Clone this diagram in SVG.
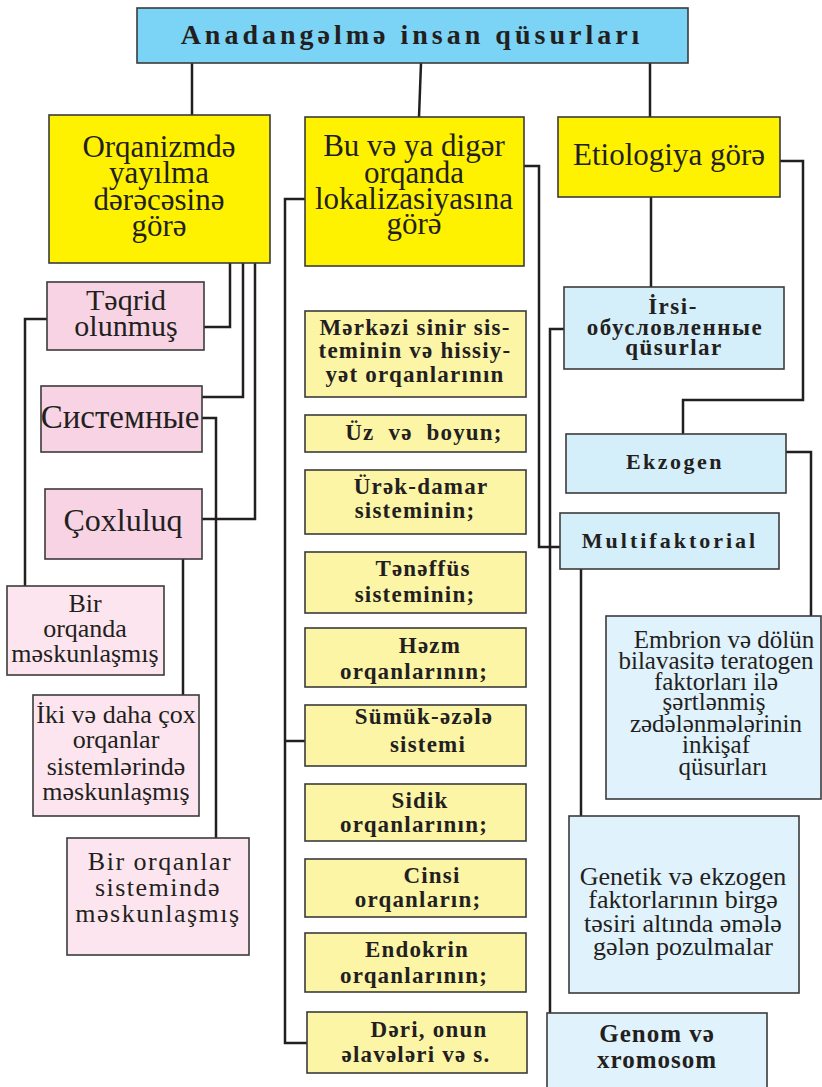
<svg xmlns="http://www.w3.org/2000/svg" width="822" height="1087" viewBox="0 0 822 1087" font-family="'Liberation Serif', 'DejaVu Serif', serif">
  <style>
    .box { stroke: #3b3b3b; stroke-width: 1.6; }
    .title { fill: #7bd3f5; }
    .main { fill: #fff200; }
    .pink { fill: #f8d3e4; }
    .pinkl { fill: #fde5ef; }
    .ylw { fill: #fdf5a6; }
    .blue { fill: #d4eefa; }
    .bluel { fill: #e0f2fc; }
    text { font-family: 'Liberation Serif', 'DejaVu Serif', serif; fill: #231f20; text-anchor: middle; }
    .t-title { font-size: 28px; font-weight: bold; letter-spacing: 4px; }
    .t-main { font-size: 31px; }
    .t-pink { font-size: 30px; }
    .t-pinkl { font-size: 26px; }
    .t-org { font-size: 23px; font-weight: bold; letter-spacing: 1.2px; }
    .t-cat { font-size: 22px; font-weight: bold; letter-spacing: 1px; }
    .t-desc { font-size: 25px; }
    .links path { fill: none; stroke: #231f20; stroke-width: 2.5; }
  </style>

  <!-- connectors -->
  <g class="links" id="connectors">
    <path d="M192,63 V115"/>
    <path d="M421,63 L419,117"/>
    <path d="M650,63 V117"/>
    <path d="M230,263 V327 H204"/>
    <path d="M243,263 V397 H202"/>
    <path d="M255,263 V519 H202"/>
    <path d="M47,319 H25 V586"/>
    <path d="M202,418 H216 V838"/>
    <path d="M183,559 V695"/>
    <path d="M305,199 H285 V1043 H307"/>
    <path d="M285,741 H305"/>
    <path d="M524,166 H539 V547 H560"/>
    <path d="M651,197 V287"/>
    <path d="M780,161 H803 V400 H683 V434"/>
    <path d="M564,329 H550 V1013"/>
    <path d="M786,452 H811 V616"/>
    <path d="M581,569 V816"/>
  </g>

  <!-- root -->
  <g id="root">
    <rect class="box title" x="137" y="8" width="551" height="55"/>
    <text class="t-title" x="412" y="44">Anadangəlmə insan qüsurları</text>
  </g>

  <!-- top-level criteria -->
  <g id="by-spread">
    <rect class="box main" x="49" y="115" width="221" height="148"/>
    <text class="t-main" x="159" y="157">Orqanizmdə</text>
    <text class="t-main" x="159" y="183">yayılma</text>
    <text class="t-main" x="159" y="210">dərəcəsinə</text>
    <text class="t-main" x="159" y="236">görə</text>
  </g>
  <g id="by-organ">
    <rect class="box main" x="305" y="117" width="219" height="149"/>
    <text class="t-main" x="414" y="156">Bu və ya digər</text>
    <text class="t-main" x="414" y="183">orqanda</text>
    <text class="t-main" x="414" y="209">lokalizasiyasına</text>
    <text class="t-main" x="414" y="234">görə</text>
  </g>
  <g id="by-etiology">
    <rect class="box main" x="558" y="117" width="222" height="80"/>
    <text class="t-main" x="669" y="165">Etiologiya görə</text>
  </g>

  <!-- spread branch -->
  <g id="isolated">
    <rect class="box pink" x="47" y="282" width="157" height="68"/>
    <text class="t-pink" x="126" y="310">Təqrid</text>
    <text class="t-pink" x="126" y="336">olunmuş</text>
  </g>
  <g id="systemic">
    <rect class="box pink" x="41" y="386" width="161" height="66"/>
    <text class="t-pink" x="120" y="428" style="font-size:33px">Системные</text>
  </g>
  <g id="multiple">
    <rect class="box pink" x="45" y="489" width="157" height="70"/>
    <text class="t-pink" x="123" y="531" style="font-size:32px">Çoxluluq</text>
  </g>
  <g id="one-organ">
    <rect class="box pinkl" x="7" y="586" width="157" height="89"/>
    <text class="t-pinkl" x="85" y="612">Bir</text>
    <text class="t-pinkl" x="85" y="637">orqanda</text>
    <text class="t-pinkl" x="85" y="662">məskunlaşmış</text>
  </g>
  <g id="several-systems">
    <rect class="box pinkl" x="33" y="695" width="166" height="121"/>
    <text class="t-pinkl" x="116" y="723">İki və daha çox</text>
    <text class="t-pinkl" x="116" y="748">orqanlar</text>
    <text class="t-pinkl" x="116" y="775">sistemlərində</text>
    <text class="t-pinkl" x="116" y="800">məskunlaşmış</text>
  </g>
  <g id="one-system">
    <rect class="box pinkl" x="67" y="838" width="182" height="117"/>
    <text class="t-pinkl" x="160" y="870" style="letter-spacing:1.5px">Bir orqanlar</text>
    <text class="t-pinkl" x="158" y="896" style="letter-spacing:1.5px">sistemində</text>
    <text class="t-pinkl" x="158" y="922" style="letter-spacing:1.5px">məskunlaşmış</text>
  </g>

  <!-- organ branch -->
  <g id="cns">
    <rect class="box ylw" x="305" y="311" width="221" height="86"/>
    <text class="t-org" x="415" y="335">Mərkəzi sinir sis-</text>
    <text class="t-org" x="415" y="358">teminin və hissiy-</text>
    <text class="t-org" x="415" y="382">yət orqanlarının</text>
  </g>
  <g id="face-neck">
    <rect class="box ylw" x="305" y="415" width="221" height="37"/>
    <text class="t-org" x="424" y="440">Üz&#160; və&#160; boyun;</text>
  </g>
  <g id="cardio">
    <rect class="box ylw" x="305" y="470" width="221" height="64"/>
    <text class="t-org" x="421" y="494">Ürək-damar</text>
    <text class="t-org" x="415" y="518">sisteminin;</text>
  </g>
  <g id="respiratory">
    <rect class="box ylw" x="305" y="552" width="221" height="61"/>
    <text class="t-org" x="423" y="576">Tənəffüs</text>
    <text class="t-org" x="415" y="602">sisteminin;</text>
  </g>
  <g id="digestive">
    <rect class="box ylw" x="305" y="628" width="221" height="59"/>
    <text class="t-org" x="430" y="653">Həzm</text>
    <text class="t-org" x="414" y="679">orqanlarının;</text>
  </g>
  <g id="musculoskeletal">
    <rect class="box ylw" x="305" y="705" width="221" height="61"/>
    <text class="t-org" x="424" y="724">Sümük-əzələ</text>
    <text class="t-org" x="428" y="752">sistemi</text>
  </g>
  <g id="urinary">
    <rect class="box ylw" x="305" y="784" width="221" height="57"/>
    <text class="t-org" x="420" y="808">Sidik</text>
    <text class="t-org" x="414" y="832">orqanlarının;</text>
  </g>
  <g id="genital">
    <rect class="box ylw" x="305" y="859" width="221" height="58"/>
    <text class="t-org" x="432" y="883">Cinsi</text>
    <text class="t-org" x="418" y="907">orqanların;</text>
  </g>
  <g id="endocrine">
    <rect class="box ylw" x="305" y="933" width="221" height="59"/>
    <text class="t-org" x="417" y="957">Endokrin</text>
    <text class="t-org" x="414" y="983">orqanlarının;</text>
  </g>
  <g id="skin">
    <rect class="box ylw" x="307" y="1012" width="220" height="61"/>
    <text class="t-org" x="429" y="1037">Dəri, onun</text>
    <text class="t-org" x="416" y="1062">əlavələri və s.</text>
  </g>

  <!-- etiology branch -->
  <g id="hereditary">
    <rect class="box blue" x="564" y="287" width="220" height="82"/>
    <text class="t-cat" x="673" y="314" style="font-size:23px;letter-spacing:1.5px">İrsi-</text>
    <text class="t-cat" x="675" y="335" style="font-size:23px;letter-spacing:1.5px">обусловленные</text>
    <text class="t-cat" x="674" y="355" style="font-size:23px;letter-spacing:1.5px">qüsurlar</text>
  </g>
  <g id="exogenous">
    <rect class="box blue" x="566" y="434" width="220" height="59"/>
    <text class="t-cat" x="675" y="469" style="letter-spacing:2.5px">Ekzogen</text>
  </g>
  <g id="multifactorial">
    <rect class="box blue" x="560" y="513" width="219" height="56"/>
    <text class="t-cat" x="670" y="548" style="letter-spacing:3px">Multifaktorial</text>
  </g>
  <g id="teratogenic">
    <rect class="box bluel" x="606" y="616" width="215" height="183"/>
    <text class="t-desc" x="724" y="648">Embrion və dölün</text>
    <text class="t-desc" x="716" y="669">bilavasitə teratogen</text>
    <text class="t-desc" x="716" y="690">faktorları ilə</text>
    <text class="t-desc" x="714" y="710">şərtlənmiş</text>
    <text class="t-desc" x="716" y="732">zədələnmələrinin</text>
    <text class="t-desc" x="716" y="753">inkişaf</text>
    <text class="t-desc" x="723" y="775">qüsurları</text>
  </g>
  <g id="gene-environment">
    <rect class="box bluel" x="569" y="816" width="230" height="177"/>
    <text class="t-desc" x="683" y="885" style="font-size:26px">Genetik və ekzogen</text>
    <text class="t-desc" x="683" y="908" style="font-size:26px">faktorlarının birgə</text>
    <text class="t-desc" x="683" y="932" style="font-size:26px">təsiri altında əmələ</text>
    <text class="t-desc" x="683" y="955" style="font-size:26px">gələn pozulmalar</text>
  </g>
  <g id="genomic">
    <rect class="box bluel" x="547" y="1013" width="220" height="80"/>
    <text class="t-cat" x="657" y="1042" style="font-size:25px">Genom və</text>
    <text class="t-cat" x="657" y="1068" style="font-size:25px">xromosom</text>
  </g>
</svg>
